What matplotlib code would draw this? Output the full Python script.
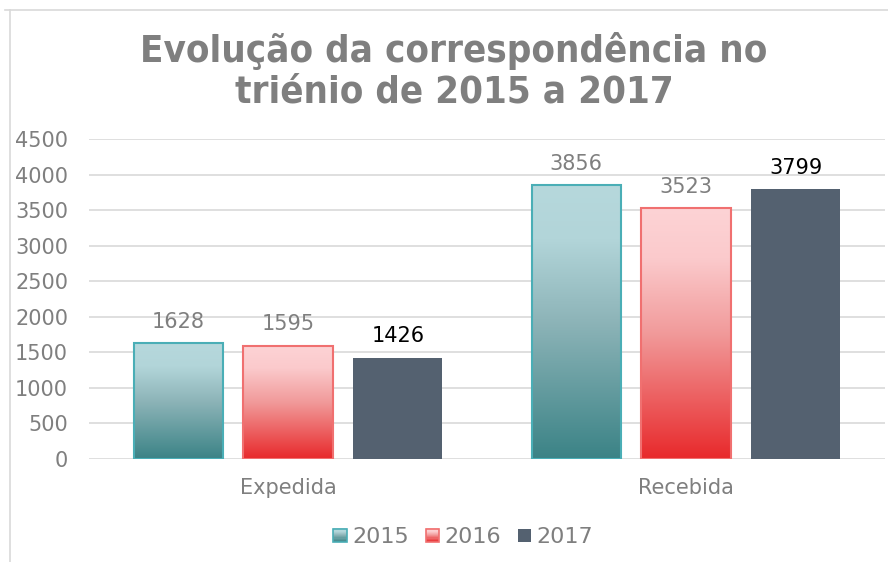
import numpy as np
import matplotlib
matplotlib.use('Agg')
import matplotlib.pyplot as plt
from matplotlib.colors import LinearSegmentedColormap
from matplotlib.patches import Rectangle
from matplotlib.legend_handler import HandlerBase
from matplotlib.lines import Line2D

# data
categories = ['Expedida', 'Recebida']
years = ['2015', '2016', '2017']
vals_2015 = [1628, 3856]
vals_2016 = [1595, 3523]
vals_2017 = [1426, 3799]

gray = '#7f7f7f'
grad_2015 = LinearSegmentedColormap.from_list('g15', [(0, '#3b8386'), (0.5, '#8db4b8'), (0.8, '#b2d5d9'), (1, '#b6d8dc')])
grad_2016 = LinearSegmentedColormap.from_list('g16', [(0, '#e8292b'), (0.5, '#f19a9a'), (0.8, '#fbcacc'), (1, '#fdd3d5')])
edge_2015 = '#4aaeb6'
edge_2016 = '#f07070'
solid_2017 = '#546170'

fig = plt.figure(figsize=(8.88, 5.62), dpi=100)
ax = fig.add_axes([89/888, 103/562, 796/888, 320/562])

x = np.arange(len(categories))
w = 0.224
offs = [-0.276, 0.0, 0.276]

grad = np.linspace(0, 1, 256).reshape(-1, 1)

series = [(vals_2015, grad_2015, edge_2015, gray),
          (vals_2016, grad_2016, edge_2016, gray),
          (vals_2017, None, solid_2017, 'black')]

for (vals, cmap, edge, lblcol), off in zip(series, offs):
    if cmap is None:
        bars = ax.bar(x + off, vals, w, color=solid_2017, zorder=3)
    else:
        bars = ax.bar(x + off, vals, w, facecolor='none', edgecolor=edge,
                      linewidth=1.5, zorder=4)
        for b in bars:
            x0, y0 = b.get_x(), b.get_y()
            im = ax.imshow(grad, cmap=cmap, origin='lower', aspect='auto',
                           extent=(x0, x0 + b.get_width(), y0, y0 + b.get_height()),
                           zorder=3)
            im.set_clip_path(b)
    for b, v in zip(bars, vals):
        ax.annotate(str(v), (b.get_x() + b.get_width() / 2, v),
                    xytext=(0, 8), textcoords='offset points',
                    ha='center', va='bottom', fontsize=15, color=lblcol)

ax.set_xlim(-0.5, 1.5)
ax.set_ylim(0, 4500)
ax.set_yticks(np.arange(0, 4501, 500))
ax.set_xticks(x)
ax.set_xticklabels(categories)
ax.grid(axis='y', color='#d9d9d9', linewidth=1.2, zorder=0)
ax.set_axisbelow(True)
for s in ax.spines.values():
    s.set_visible(False)
ax.tick_params(axis='y', length=0, labelsize=15, labelcolor=gray, pad=15)
ax.tick_params(axis='x', length=0, labelsize=15, labelcolor=gray, pad=14)
ax.set_autoscale_on(False)

fig.text(454/888, 1 - 71/562, 'Evolução da correspondência no\ntriénio de 2015 a 2017',
         ha='center', va='center', fontsize=27.5, fontweight='bold', color=gray,
         family='DejaVu Sans', stretch='condensed', linespacing=1.17)

# legend with gradient squares
class GradHandler(HandlerBase):
    def __init__(self, cmap, edge):
        super().__init__()
        self.cmap = cmap
        self.edge = edge

    def create_artists(self, legend, orig_handle, xdescent, ydescent, width,
                       height, fontsize, trans):
        s = min(width, height) * 0.85
        x0 = xdescent + width - s
        y0 = -ydescent + (height - s) / 2
        arts = []
        n = 12
        for i in range(n):
            arts.append(Rectangle((x0, y0 + s * i / n), s, s / n + 0.3,
                                  facecolor=self.cmap(i / (n - 1)),
                                  edgecolor='none', transform=trans))
        arts.append(Rectangle((x0, y0), s, s, facecolor='none',
                              edgecolor=self.edge, linewidth=1.2, transform=trans))
        return arts

class SolidHandler(HandlerBase):
    def create_artists(self, legend, orig_handle, xdescent, ydescent, width,
                       height, fontsize, trans):
        s = min(width, height) * 0.85
        x0 = xdescent + width - s
        y0 = -ydescent + (height - s) / 2
        return [Rectangle((x0, y0), s, s, facecolor=solid_2017,
                          edgecolor='none', transform=trans)]

h1, h2, h3 = Line2D([], []), Line2D([], []), Line2D([], [])
leg = fig.legend([h1, h2, h3], years, loc='center', bbox_to_anchor=(461/888, 1 - 537/562),
                 ncol=3, frameon=False, fontsize=16, labelcolor=gray,
                 handlelength=0.8, handletextpad=0.25, columnspacing=0.55,
                 handler_map={h1: GradHandler(grad_2015, edge_2015),
                              h2: GradHandler(grad_2016, edge_2016),
                              h3: SolidHandler()})

# chart frame border (cropped)
fig.add_artist(Line2D([10/888, 10/888], [0, 1 - 10/562], transform=fig.transFigure,
                      color='#d9d9d9', linewidth=1.2))
fig.add_artist(Line2D([5/888, 1], [1 - 10/562, 1 - 10/562], transform=fig.transFigure,
                      color='#d9d9d9', linewidth=1.2))

fig.savefig('out.png', dpi=100)
